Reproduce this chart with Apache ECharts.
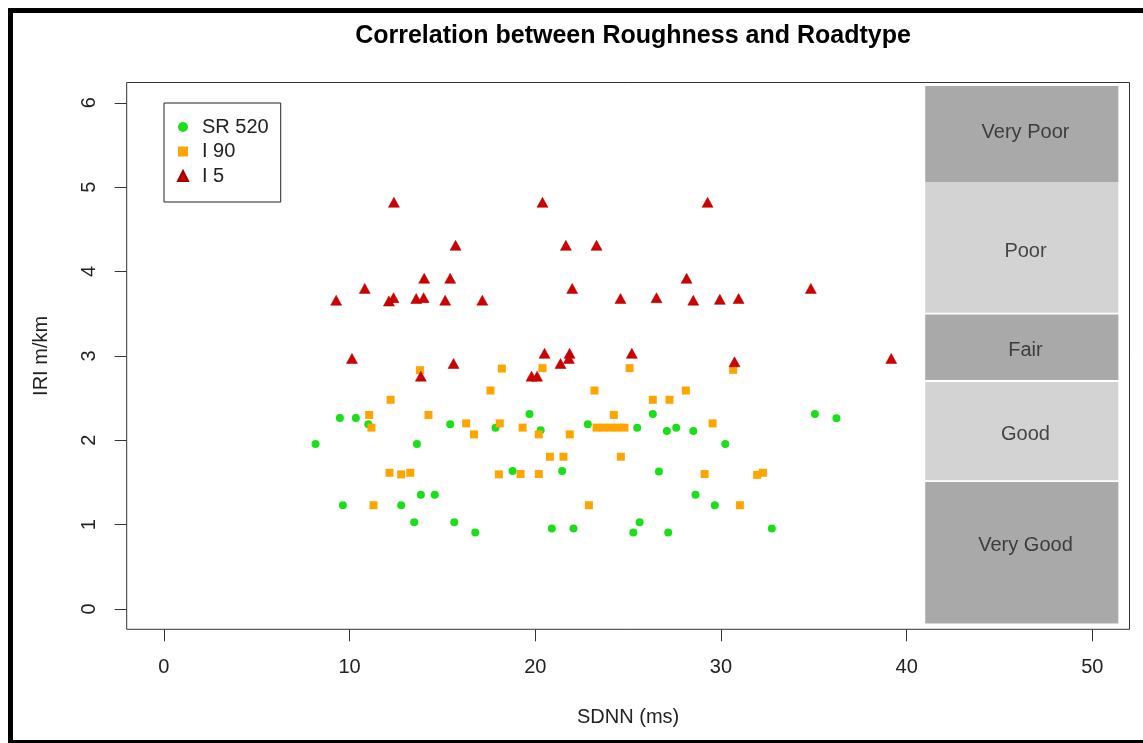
<!DOCTYPE html>
<html>
<head>
<meta charset="utf-8">
<script src="https://cdn.jsdelivr.net/npm/echarts@6/dist/echarts.min.js"></script>
<style>
html,body{margin:0;padding:0;background:#fff;}
#chart{width:1143px;height:743px;}
</style>
</head>
<body>
<div id="chart"></div>
<script>
// ---- data ----
const seriesNames = ['SR 520', 'I 90', 'I 5'];
const xTicks = [0, 10, 20, 30, 40, 50];
const yTicks = [0, 1, 2, 3, 4, 5, 6];

const sr520 = [
  [9.48,2.265],[10.34,2.265],[11.01,2.19],[8.17,1.956],[13.63,1.956],[15.42,2.19],
  [17.86,2.15],[19.69,2.31],[20.29,2.12],[22.83,2.19],[18.78,1.635],[21.45,1.635],
  [13.84,1.354],[14.59,1.354],[9.64,1.23],[12.78,1.23],[13.48,1.03],[15.64,1.03],
  [16.77,0.907],[20.89,0.955],[22.06,0.955],[25.49,2.15],[26.33,2.31],[27.09,2.11],
  [27.59,2.15],[28.51,2.11],[30.23,1.956],[35.06,2.31],[36.22,2.26],[26.66,1.63],
  [28.63,1.354],[29.67,1.23],[25.62,1.03],[25.28,0.907],[27.16,0.907],[32.74,0.955]
];
const i90 = [
  [13.79,2.83],[18.2,2.85],[20.39,2.855],[25.08,2.855],[30.66,2.835],[12.21,2.48],
  [17.59,2.59],[23.19,2.59],[11.06,2.30],[11.18,2.15],[14.25,2.30],[16.28,2.20],
  [16.70,2.07],[18.09,2.20],[19.32,2.15],[20.19,2.07],[21.86,2.07],[23.3,2.15],
  [23.68,2.15],[24.05,2.15],[24.43,2.15],[24.8,2.15],[20.79,1.805],[21.52,1.805],
  [12.15,1.615],[12.78,1.596],[13.27,1.615],[18.04,1.596],[19.21,1.60],[20.19,1.60],
  [11.29,1.23],[22.89,1.23],[26.33,2.48],[27.23,2.48],[28.11,2.59],[24.23,2.30],
  [29.55,2.20],[24.61,1.805],[29.12,1.60],[31.95,1.59],[32.26,1.615],[31.02,1.23]
];
const i5 = [
  [12.39,4.82],[20.39,4.82],[29.28,4.82],[15.71,4.31],[21.65,4.31],[23.3,4.31],
  [14.02,3.92],[15.42,3.92],[28.15,3.92],[10.82,3.80],[21.99,3.80],[34.84,3.80],
  [9.28,3.66],[12.12,3.65],[12.37,3.69],[13.59,3.68],[13.99,3.69],[15.15,3.66],
  [17.15,3.66],[24.59,3.68],[26.53,3.69],[28.51,3.66],[29.94,3.67],[30.95,3.68],
  [10.13,2.97],[15.60,2.91],[20.50,3.03],[21.85,3.03],[21.81,2.97],[21.36,2.91],
  [25.20,3.03],[30.73,2.93],[39.17,2.97],[13.84,2.76],[19.8,2.76],[20.1,2.76]
];

// roughness bands (drawn on the right)
const bandNames = ['Very Good', 'Good', 'Fair', 'Poor', 'Very Poor'];
const bandLow   = [-0.17, 1.525, 2.715, 3.51, 5.06];
const bandHigh  = [1.505, 2.69, 3.49, 5.06, 6.20];
const bandX     = [41, 51.4];
const bandLabelX = 46.4;
const bandLabelY = [0.75, 2.07, 3.07, 4.24, 5.65];

// ---- styles ----
const bandColors = ['#A9A9A9', '#D3D3D3', '#A9A9A9', '#D3D3D3', '#A9A9A9'];
const colGreen = '#19e019', colOrange = '#FFA500', colRed = '#D00000';
const FONT = 'Liberation Sans, Arial, sans-serif';
const TXT = '#222';

const chart = echarts.init(document.getElementById('chart'), null, {renderer: 'canvas'});

const option = {
  animation: false,
  backgroundColor: '#fff',
  title: {
    text: 'Correlation between Roughness and Roadtype',
    left: 628, top: 19, textAlign: 'center',
    textStyle: {fontFamily: FONT, fontSize: 25, fontWeight: 'bold', color: '#000'}
  },
  legend: {
    data: [
      {name: 'SR 520', icon: 'circle'},
      {name: 'I 90', icon: 'rect'},
      {name: 'I 5', icon: 'triangle'}
    ],
    orient: 'vertical',
    left: 164, top: 103,
    padding: [14, 12, 16, 13],
    itemGap: 4.5,
    itemWidth: 10, itemHeight: 10,
    borderColor: '#222', borderWidth: 1,
    textStyle: {fontFamily: FONT, fontSize: 20, color: TXT, padding: [0, 0, 0, 9]},
    selectedMode: false
  },
  grid: {
    left: 126.7, right: 13.5, top: 82.5, bottom: 113.7,
    show: true, borderColor: '#333', borderWidth: 1, backgroundColor: 'transparent',
    containLabel: false, outerBoundsMode: 'none'
  },
  xAxis: {
    type: 'value', min: -2, max: 52,
    name: 'SDNN (ms)', nameLocation: 'middle', nameGap: 78,
    nameTextStyle: {fontFamily: FONT, fontSize: 20, color: TXT},
    axisLine: {show: false, onZero: false},
    axisTick: {show: true, inside: false, length: 12, customValues: xTicks, lineStyle: {color: '#333'}},
    axisLabel: {customValues: xTicks, margin: 28, fontFamily: FONT, fontSize: 20, color: TXT},
    splitLine: {show: false}
  },
  yAxis: {
    type: 'value', min: -0.24, max: 6.24,
    name: 'IRI m/km', nameLocation: 'middle', nameGap: 75, nameRotate: 90,
    nameTextStyle: {fontFamily: FONT, fontSize: 20, color: TXT},
    axisLine: {show: false, onZero: false},
    axisTick: {show: true, inside: false, length: 12, customValues: yTicks, lineStyle: {color: '#333'}},
    axisLabel: {customValues: yTicks, rotate: 90, margin: 27, fontFamily: FONT, fontSize: 20, color: TXT},
    splitLine: {show: false}
  },
  graphic: [
    {type: 'rect', shape: {x: 8, y: 8, width: 5, height: 735}, style: {fill: '#000'}, z: 100},
    {type: 'rect', shape: {x: 8, y: 8, width: 1135, height: 5}, style: {fill: '#000'}, z: 100},
    {type: 'rect', shape: {x: 8, y: 740, width: 1135, height: 3}, style: {fill: '#000'}, z: 100}
  ],
  series: [
    {
      name: 'bands', type: 'scatter', data: [], z: 1, silent: true,
      markArea: {
        silent: true,
        label: {show: false},
        data: bandNames.map((n, i) => [
          {xAxis: bandX[0], yAxis: bandLow[i], itemStyle: {color: bandColors[i], opacity: 1, borderWidth: 0}},
          {xAxis: bandX[1], yAxis: bandHigh[i]}
        ])
      }
    },
    {
      name: 'SR 520', type: 'scatter', data: sr520, symbol: 'circle', symbolSize: 8, z: 3,
      itemStyle: {color: colGreen, opacity: 1}
    },
    {
      name: 'I 90', type: 'scatter', data: i90, symbol: 'rect', symbolSize: 8, z: 4,
      itemStyle: {color: colOrange, opacity: 1}
    },
    {
      name: 'I 5', type: 'scatter', data: i5, symbol: 'triangle', symbolSize: [11, 10], z: 5,
      itemStyle: {color: colRed, opacity: 1, borderColor: '#a00000', borderWidth: 0.5}
    },
    {
      name: 'bandLabels', type: 'scatter', z: 6, silent: true, symbolSize: 0,
      data: bandNames.map((n, i) => [bandLabelX, bandLabelY[i], n]),
      label: {
        show: true, position: 'inside', formatter: p => p.data[2],
        fontFamily: FONT, fontSize: 20, color: TXT
      }
    }
  ]
};
chart.setOption(option);
</script>
</body>
</html>
